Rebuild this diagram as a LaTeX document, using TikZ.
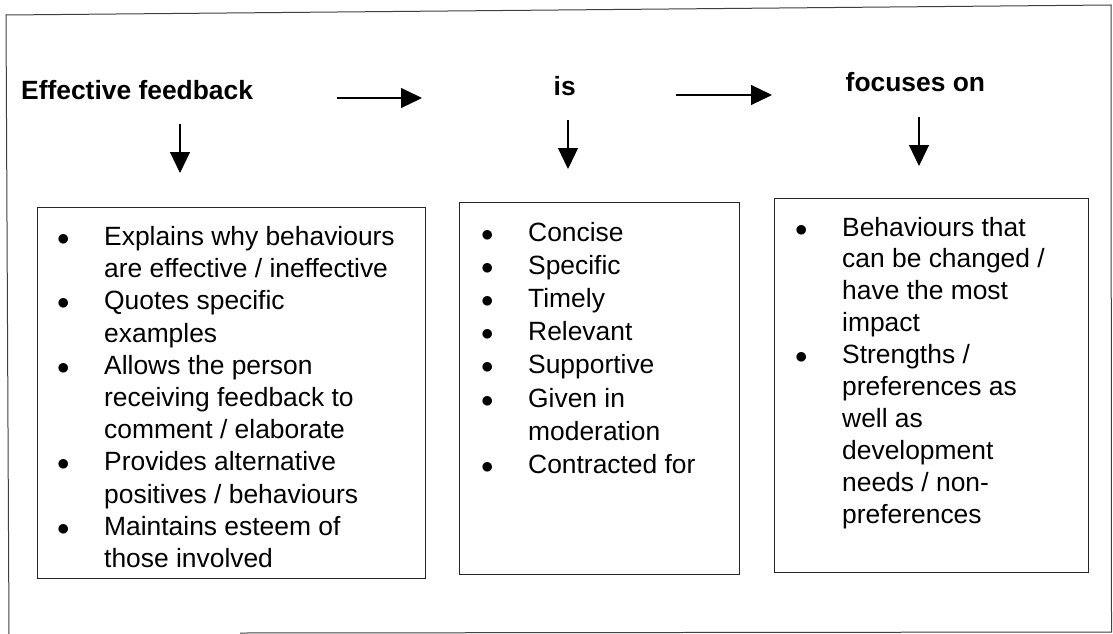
\documentclass[tikz,border=0pt]{standalone}
\usepackage{fontspec}
\setmainfont{Liberation Sans}
\usetikzlibrary{arrows.meta}
\newcommand\bitem{\makebox[47pt][l]{$\bullet$}}
\newcommand\bcont{\hspace*{47pt}}
\begin{document}
\begin{tikzpicture}[x=1pt,y=-1pt,
  frame/.style={draw=black!75, line width=1pt},
  box/.style={draw=black!85, line width=1.1pt, inner sep=0, anchor=north west},
  arr/.style={line width=1.2pt, -{Triangle[length=21pt,width=20pt]}},
  lbl/.style={inner sep=0, anchor=base west, font=\fontsize{26.4}{30}\selectfont\bfseries},
  list/.style={inner sep=0, anchor=base west}]
\useasboundingbox (0,0) rectangle (1113,634);
\fill[white] (0,0) rectangle (1113,634);
% outer frame
\draw[frame] (240,633) -- (1111.5,632) -- (1111,5) -- (6,15) -- (9,634);
% headings
\node[lbl] (t1) at (21,99) {Effective feedback};
\node[lbl] (t2) at (553.5,95) {is};
\node[lbl] (t3) at (845.5,92) {focuses on};
% boxes
\node[box, minimum width=388pt, minimum height=371pt] (b1) at (37,207) {};
\node[box, minimum width=280pt, minimum height=372pt] (b2) at (459,202) {};
\node[box, minimum width=314pt, minimum height=374pt] (b3) at (774,198) {};
% lists
\node[list] (l1) at (57,245.5) {\begin{minipage}[t]{360pt}\fontsize{26.4}{32.2}\selectfont\raggedright
\bitem Explains why behaviours\\
\bcont are effective / ineffective\\
\bitem Quotes specific\\
\bcont examples\\
\bitem Allows the person\\
\bcont receiving feedback to\\
\bcont comment / elaborate\\
\bitem Provides alternative\\
\bcont positives / behaviours\\
\bitem Maintains esteem of\\
\bcont those involved
\end{minipage}};
\node[list] (l2) at (481,241) {\begin{minipage}[t]{250pt}\fontsize{26.4}{33.2}\selectfont\raggedright
\bitem Concise\\
\bitem Specific\\
\bitem Timely\\
\bitem Relevant\\
\bitem Supportive\\
\bitem Given in\\
\bcont moderation\\
\bitem Contracted for
\end{minipage}};
\node[list] (l3) at (795,236) {\begin{minipage}[t]{300pt}\fontsize{26.4}{31.9}\selectfont\raggedright
\bitem Behaviours that\\
\bcont can be changed /\\
\bcont have the most\\
\bcont impact\\
\bitem Strengths /\\
\bcont preferences as\\
\bcont well as\\
\bcont development\\
\bcont needs / non-\\
\bcont preferences
\end{minipage}};
% arrows
\coordinate (h1s) at (337,98);
\coordinate (h1e) at (422,98);
\coordinate (h2s) at (676,95);
\coordinate (h2e) at (772,95);
\coordinate (v1s) at (180,124);
\coordinate (v1e) at (180,173);
\coordinate (v2s) at (568,120);
\coordinate (v2e) at (568,169);
\coordinate (v3s) at (919,117);
\coordinate (v3e) at (919,166);
\draw[arr] (h1s) -- (h1e);
\draw[arr] (h2s) -- (h2e);
\draw[arr] (v1s) -- (v1e);
\draw[arr] (v2s) -- (v2e);
\draw[arr] (v3s) -- (v3e);
\end{tikzpicture}
\end{document}
